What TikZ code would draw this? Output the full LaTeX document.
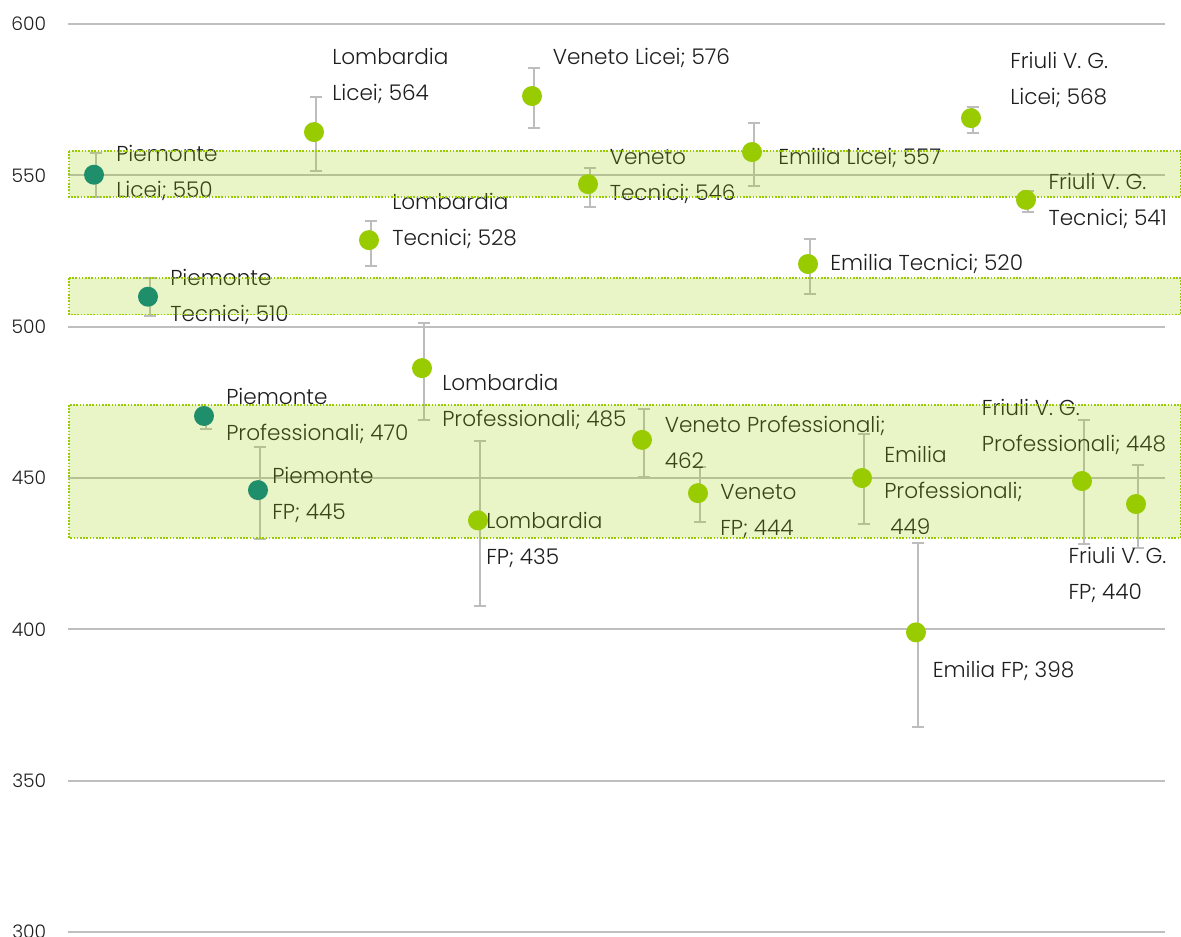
\documentclass[tikz,border=0pt]{standalone}
\usepackage{fontspec}
\setmainfont{Poppins}[UprightFont={* Light}]
\definecolor{lgreen}{HTML}{99CC00}
\definecolor{dgreen}{HTML}{1F8E6A}
\definecolor{gridgray}{HTML}{BFBFBF}
\definecolor{errgray}{HTML}{BDBDBD}
\definecolor{txt}{HTML}{1E1E1E}
% value on the axis -> vertical pixel position
\pgfmathdeclarefunction{vy}{1}{\pgfmathparse{24+(600-#1)*3.02667}}
\tikzset{
  gridline/.style={draw=gridgray, line width=1.4pt},
  errbar/.style={draw=errgray, line width=1.5pt},
  dotL/.style={circle, fill=lgreen, inner sep=0pt, minimum size=15pt},
  dotD/.style={circle, fill=dgreen, inner sep=0pt, minimum size=15pt},
  lbl/.style={anchor=west, align=left, inner sep=0pt, text=txt,
    font=\fontsize{16.2}{27}\selectfont},
  ticklbl/.style={anchor=east, inner sep=0pt, text=txt,
    font=\fontsize{14}{16}\selectfont},
  band/.style={fill=lgreen, fill opacity=0.22, draw=lgreen,
    line width=1.1pt, dash pattern=on 1.2pt off 1.2pt}
}
\begin{document}
\begin{tikzpicture}[x=0.75pt, y=-0.75pt]
\useasboundingbox (0,0) rectangle (1181,936);

% horizontal grid and axis values
\foreach \v in {300,350,...,600}{
  \draw[gridline] (68,{vy(\v)}) -- (1165,{vy(\v)});
  \node[ticklbl] (tick\v) at (46.5,{vy(\v)}) {\v};
}

% error bars (x, value, low, high)
\foreach \x/\v/\lo/\hi in {
  94/550.2/542.8/557.4, 148/509.9/503.5/516.1, 204/470.5/466.3/472.0,
  258/446/430/460.2, 314/564.3/551.4/575.9, 369/528.6/520/534.9,
  422/486.3/469.2/501.2, 478/436/407.7/462.2, 532/576.2/565.6/585.5,
  588/547.1/539.5/552.4, 642/462.6/450.3/472.8, 698/445/435.5/453.6,
  752/557.7/546.5/567.3, 808/520.7/510.8/529, 862/450/434.8/464.5,
  916/399/367.7/428.5, 971/568.9/564/572.6, 1026/541.9/537.9/544.8,
  1082/449/428.2/469.2, 1136/441.4/426.9/454.3}{
  \draw[errbar] ({\x+1.5},{vy(\lo)}) -- ({\x+1.5},{vy(\hi)});
  \draw[errbar] ({\x-4.5},{vy(\lo)}) -- ({\x+7.5},{vy(\lo)});
  \draw[errbar] ({\x-4.5},{vy(\hi)}) -- ({\x+7.5},{vy(\hi)});
}

% data labels
\node[lbl] (t-pieL) at (116,172.5) {Piemonte\\Licei; 550};
\node[lbl] (t-pieT) at (170,297) {Piemonte\\Tecnici; 510};
\node[lbl] (t-pieP) at (226,416) {Piemonte\\Professionali; 470};
\node[lbl] (t-pieF) at (272,494.7) {Piemonte\\FP; 445};
\node[lbl] (t-lomL) at (332,76) {Lombardia\\Licei; 564};
\node[lbl] (t-lomT) at (392,221) {Lombardia\\Tecnici; 528};
\node[lbl] (t-lomP) at (442,402) {Lombardia\\Professionali; 485};
\node[lbl] (t-lomF) at (486,540) {Lombardia\\FP; 435};
\node[lbl] (t-venL) at (552.5,58.3) {Veneto Licei; 576};
\node[lbl] (t-venT) at (609.5,176.3) {Veneto\\Tecnici; 546};
\node[lbl] (t-venP) at (664.5,442.8) {Veneto Professionali;\\462};
\node[lbl] (t-venF) at (720,512) {Veneto\\FP; 444};
\node[lbl] (t-emiL) at (778,158.3) {Emilia Licei; 557};
\node[lbl] (t-emiT) at (830,264.3) {Emilia Tecnici; 520};
\node[lbl] (t-emiP) at (884,490.7) {Emilia\\Professionali;\\\hspace*{4.5pt}449};
\node[lbl] (t-emiF) at (932.5,670.7) {Emilia FP; 398};
\node[lbl] (t-friL) at (1010,80) {Friuli V. G.\\Licei; 568};
\node[lbl] (t-friT) at (1048.3,200.5) {Friuli V. G.\\Tecnici; 541};
\node[lbl] (t-friP) at (981.7,427) {Friuli V. G.\\Professionali; 448};
\node[lbl] (t-friF) at (1068.3,574.7) {Friuli V. G.\\FP; 440};

% reference bands
\draw[band] (69,151) rectangle (1180.5,197);
\draw[band] (69,278) rectangle (1180.5,314.5);
\draw[band] (69,405) rectangle (1180.5,538);

% points, on top of the bands
\foreach \nm/\x/\v/\st in {
  pieL/94/550.2/dotD, pieT/148/509.9/dotD, pieP/204/470.5/dotD,
  pieF/258/446/dotD, lomL/314/564.3/dotL, lomT/369/528.6/dotL,
  lomP/422/486.3/dotL, lomF/478/436/dotL, venL/532/576.2/dotL,
  venT/588/547.1/dotL, venP/642/462.6/dotL, venF/698/445/dotL,
  emiL/752/557.7/dotL, emiT/808/520.7/dotL, emiP/862/450/dotL,
  emiF/916/399/dotL, friL/971/568.9/dotL, friT/1026/541.9/dotL,
  friP/1082/449/dotL, friF/1136/441.4/dotL}{
  \node[\st] (\nm) at (\x,{vy(\v)}) {};
}
\end{tikzpicture}
\end{document}
